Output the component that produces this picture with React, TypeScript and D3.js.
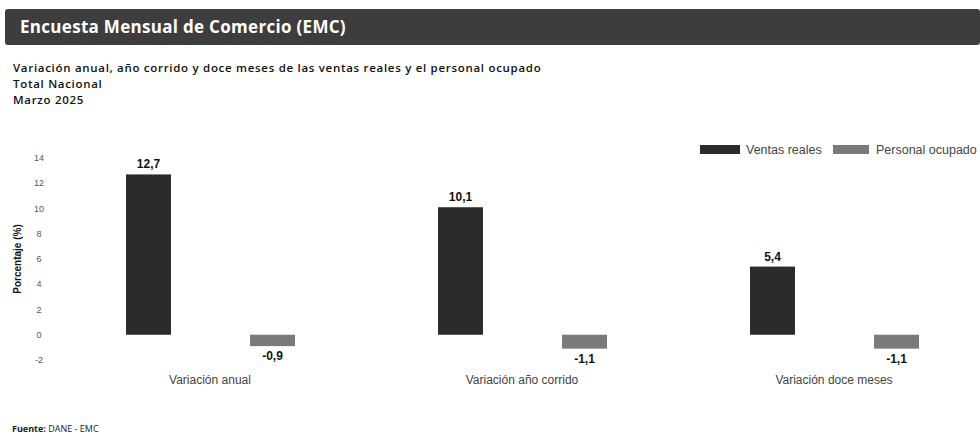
import React, { useEffect } from 'react';
import * as d3 from 'd3';

// Datos (EMC, marzo 2025)
const categories = ['Variación anual', 'Variación año corrido', 'Variación doce meses'];
const seriesNames = ['Ventas reales', 'Personal ocupado'];
const ventasReales = [12.7, 10.1, 5.4];
const personalOcupado = [-0.9, -1.1, -1.1];
const yTicks = [-2, 0, 2, 4, 6, 8, 10, 12, 14];

const W = 980;
const H = 437;
const colors = ['#2b2b2b', '#7a7a7a'];

const locale = d3.formatLocale({ decimal: ',', thousands: '.', grouping: [3], currency: ['$', ''], minus: '-' });
const fmt = locale.format('.1f');

const App = () => {
  useEffect(() => {
    document.body.style.margin = '0';
  }, []);

  const x0 = d3.scaleBand<string>().domain(categories).range([54, 990]);
  const x1 = d3.scaleBand<string>().domain(seriesNames).range([72, 241]).paddingInner(0.637);
  const y = d3.scaleLinear().domain([-2, 14]).range([360, 158]);

  const rows = categories.map((c, i) => ({ c, values: [ventasReales[i], personalOcupado[i]] }));

  return (
    <svg width={W} height={H} style={{ display: 'block', background: '#fff' }}>
      {/* cabecera */}
      <rect x={5} y={9} width={975} height={36} rx={3} fill="#3d3d3d" />
      <text x={20} y={33} fill="#fff" fontFamily="'Open Sans', sans-serif" fontWeight={700} fontSize={17} letterSpacing={0.3}>
        Encuesta Mensual de Comercio (EMC)
      </text>

      {/* títulos */}
      <g fontFamily="'Open Sans', sans-serif" fontWeight={600} fontSize={11.5} letterSpacing={0.7} fill="#111">
        <text x={13} y={72}>Variación anual, año corrido y doce meses de las ventas reales y el personal ocupado</text>
        <text x={13} y={87.8}>Total Nacional</text>
        <text x={13} y={103.6}>Marzo 2025</text>
      </g>

      {/* eje y */}
      <g fontFamily="'Liberation Sans', Arial, sans-serif" fontSize={9} fill="#555" textAnchor="middle">
        {yTicks.map(t => (
          <text key={t} x={39} y={y(t)} dy="0.35em">{t}</text>
        ))}
      </g>
      <text
        transform={`translate(21,${y(6)}) rotate(-90)`}
        textAnchor="middle"
        fontFamily="'Liberation Sans', Arial, sans-serif"
        fontWeight={700}
        fontSize={10}
        fill="#111"
      >
        Porcentaje (%)
      </text>

      {/* barras */}
      {rows.map(r => (
        <g key={r.c} transform={`translate(${x0(r.c)},0)`}>
          {r.values.map((v, j) => {
            const xs = x1(seriesNames[j]) as number;
            const bw = x1.bandwidth();
            const top = y(Math.max(0, v));
            const h = Math.abs(y(v) - y(0));
            return (
              <g key={j}>
                <rect x={xs} y={top} width={bw} height={h} fill={colors[j]} />
                <text
                  x={xs + bw / 2}
                  y={v >= 0 ? y(v) - 6 : y(v) + 14}
                  textAnchor="middle"
                  fontFamily="'Liberation Sans', Arial, sans-serif"
                  fontWeight={700}
                  fontSize={12}
                  fill="#111"
                >
                  {fmt(v)}
                </text>
              </g>
            );
          })}
          <text
            x={x0.bandwidth() / 2}
            y={384}
            textAnchor="middle"
            fontFamily="'Liberation Sans', Arial, sans-serif"
            fontSize={12}
            fill="#444"
          >
            {r.c}
          </text>
        </g>
      ))}

      {/* leyenda */}
      <g fontFamily="'Liberation Sans', Arial, sans-serif" fontSize={12.5} fill="#444">
        <rect x={700} y={145} width={40} height={9} fill={colors[0]} />
        <text x={746} y={154}>{seriesNames[0]}</text>
        <rect x={833} y={145} width={36} height={9} fill={colors[1]} />
        <text x={876} y={154}>{seriesNames[1]}</text>
      </g>

      {/* fuente */}
      <text x={12} y={432} fontFamily="'Open Sans', sans-serif" fontSize={9} fill="#222">
        <tspan fontWeight={700}>Fuente: </tspan>DANE - EMC
      </text>
    </svg>
  );
};

export default App;
